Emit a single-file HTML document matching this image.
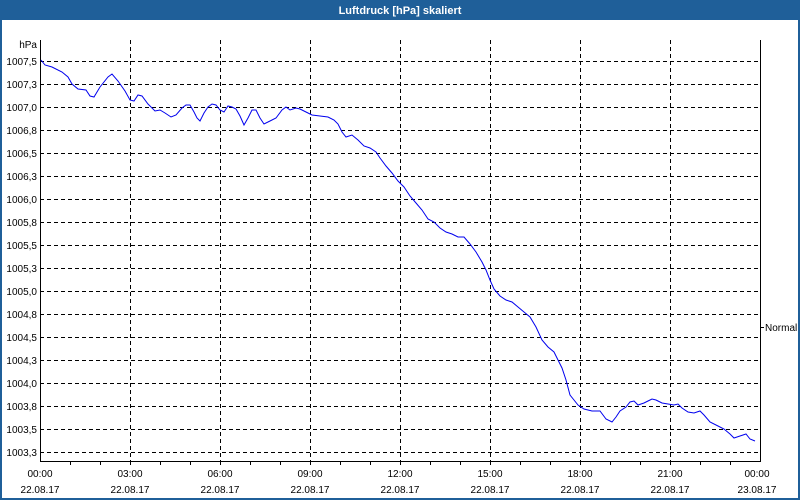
<!DOCTYPE html>
<html><head><style>
html,body{margin:0;padding:0;background:#fff;}
svg{display:block;font-family:"Liberation Sans",Tahoma,sans-serif;}
</style></head><body>
<svg width="800" height="500" xmlns="http://www.w3.org/2000/svg">
<rect x="0" y="0" width="800" height="500" fill="#1f5f99"/>
<rect x="2" y="20" width="796" height="478" fill="#fff"/>
<text x="400" y="14" fill="#fff" font-size="11" font-weight="bold" text-anchor="middle">Luftdruck [hPa] skaliert</text>
<g stroke="#000" stroke-dasharray="4,3" stroke-width="1">
<line x1="40" x2="760" y1="61.5" y2="61.5"/><line x1="40" x2="760" y1="84.5" y2="84.5"/><line x1="40" x2="760" y1="107.5" y2="107.5"/><line x1="40" x2="760" y1="130.5" y2="130.5"/><line x1="40" x2="760" y1="153.5" y2="153.5"/><line x1="40" x2="760" y1="176.5" y2="176.5"/><line x1="40" x2="760" y1="199.5" y2="199.5"/><line x1="40" x2="760" y1="222.5" y2="222.5"/><line x1="40" x2="760" y1="245.5" y2="245.5"/><line x1="40" x2="760" y1="268.5" y2="268.5"/><line x1="40" x2="760" y1="291.5" y2="291.5"/><line x1="40" x2="760" y1="314.5" y2="314.5"/><line x1="40" x2="760" y1="337.5" y2="337.5"/><line x1="40" x2="760" y1="360.5" y2="360.5"/><line x1="40" x2="760" y1="383.5" y2="383.5"/><line x1="40" x2="760" y1="406.5" y2="406.5"/><line x1="40" x2="760" y1="429.5" y2="429.5"/><line x1="40" x2="760" y1="452.5" y2="452.5"/>
<line y1="40" y2="461" x1="130.5" x2="130.5"/><line y1="40" y2="461" x1="220.5" x2="220.5"/><line y1="40" y2="461" x1="310.5" x2="310.5"/><line y1="40" y2="461" x1="400.5" x2="400.5"/><line y1="40" y2="461" x1="490.5" x2="490.5"/><line y1="40" y2="461" x1="580.5" x2="580.5"/><line y1="40" y2="461" x1="670.5" x2="670.5"/>
</g>
<g stroke="#000" stroke-width="1">
<line x1="40.5" y1="40" x2="40.5" y2="462"/><line x1="760.5" y1="40" x2="760.5" y2="462"/><line x1="40" y1="461.5" x2="761" y2="461.5"/>
<line x1="760" y1="327.5" x2="764" y2="327.5"/>
<path d="M70.5 461v4M100.5 461v4M130.5 461v4M160.5 461v4M190.5 461v4M220.5 461v4M250.5 461v4M280.5 461v4M310.5 461v4M340.5 461v4M370.5 461v4M400.5 461v4M430.5 461v4M460.5 461v4M490.5 461v4M520.5 461v4M550.5 461v4M580.5 461v4M610.5 461v4M640.5 461v4M670.5 461v4M700.5 461v4M730.5 461v4"/>
</g>
<g font-size="10" fill="#000" text-anchor="end">
<text x="37" y="48">hPa</text>
<text x="37" y="65">1007,5</text><text x="37" y="88">1007,3</text><text x="37" y="111">1007,0</text><text x="37" y="134">1006,8</text><text x="37" y="157">1006,5</text><text x="37" y="180">1006,3</text><text x="37" y="203">1006,0</text><text x="37" y="226">1005,8</text><text x="37" y="249">1005,5</text><text x="37" y="272">1005,3</text><text x="37" y="295">1005,0</text><text x="37" y="318">1004,8</text><text x="37" y="341">1004,5</text><text x="37" y="364">1004,3</text><text x="37" y="387">1004,0</text><text x="37" y="410">1003,8</text><text x="37" y="433">1003,5</text><text x="37" y="456">1003,3</text>
</g>
<text x="765" y="331" font-size="10">Normal</text>
<g font-size="10" text-anchor="middle">
<text x="40" y="477">00:00</text><text x="130" y="477">03:00</text><text x="220" y="477">06:00</text><text x="310" y="477">09:00</text><text x="400" y="477">12:00</text><text x="490" y="477">15:00</text><text x="580" y="477">18:00</text><text x="670" y="477">21:00</text><text x="757" y="477">00:00</text>
<text x="40" y="493">22.08.17</text><text x="130" y="493">22.08.17</text><text x="220" y="493">22.08.17</text><text x="310" y="493">22.08.17</text><text x="400" y="493">22.08.17</text><text x="490" y="493">22.08.17</text><text x="580" y="493">22.08.17</text><text x="670" y="493">22.08.17</text><text x="757" y="493">23.08.17</text>
</g>
<polyline fill="none" stroke="#0000ee" stroke-width="1" points="41,60 45,65 52,67 62,72 68,77 72,84 78,89 86,90 90,96 94,97 100,87 108,77 112,74 118,81 125,91 130,100 134,101 138,95 142,96 148,104 155,111 160,110 165,113 171,117 176,115 182,108 186,105 190,105 194,112 197,118 200,121 204,113 208,107 212,104 216,105 220,110 224,112 228,106 232,107 236,109 240,116 244,125 248,118 252,110 256,110 260,118 264,124 270,121 276,118 282,110 286,107 290,110 296,108 300,109 306,112 312,115 320,116 328,117 334,120 338,124 342,132 346,137 352,135 358,140 364,146 370,148 376,152 380,158 386,166 392,173 398,181 404,187 410,196 416,203 422,210 428,219 434,222 440,228 446,232 452,234 458,237 464,237 470,244 476,252 482,262 486,270 490,280 494,289 500,296 506,300 512,302 518,307 524,312 530,317 536,327 542,340 548,347 554,352 558,360 562,368 566,380 570,395 574,400 578,405 584,409 592,411 600,411 606,419 612,422 616,417 620,411 626,407 630,402 634,401 638,405 644,403 648,401 652,399 656,400 662,403 668,404 674,405 678,404 682,408 688,412 694,413 700,411 704,415 710,422 718,426 724,429 730,434 734,438 740,436 746,434 750,439 755,441"/>
</svg>
</body></html>
